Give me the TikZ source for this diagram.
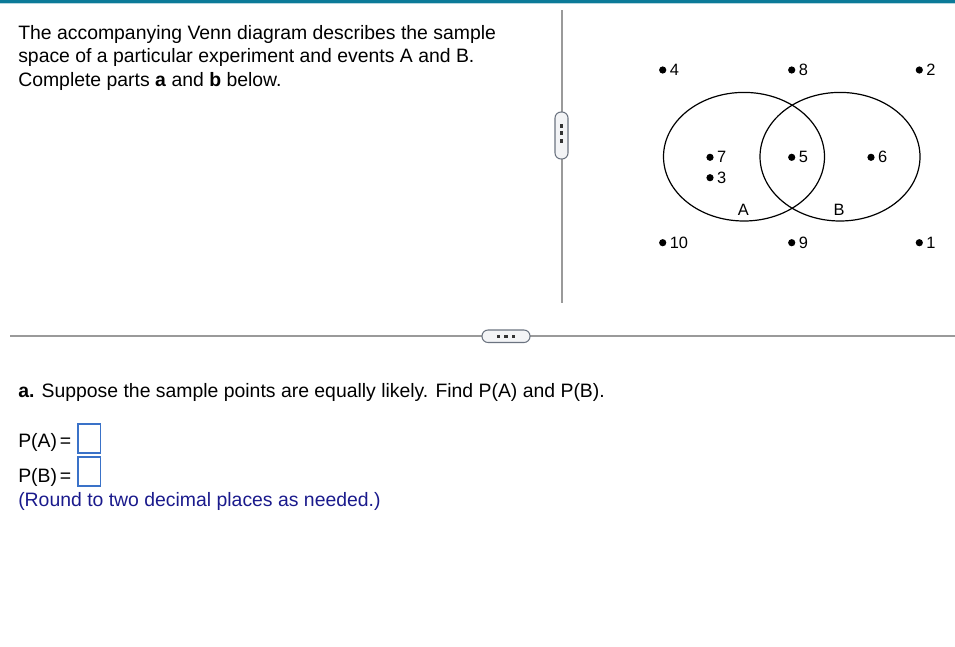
\documentclass[tikz,border=0pt]{standalone}
\usepackage{fontspec}
\setmainfont{Liberation Sans}
\definecolor{teal1}{HTML}{0B7A98}
\definecolor{rulegray}{HTML}{9A9A9A}
\definecolor{handleedge}{HTML}{6B7380}
\definecolor{handlefill}{HTML}{F3F4F6}
\definecolor{boxblue}{HTML}{3A72C8}
\definecolor{navy}{HTML}{1A1A8C}
\begin{document}
\begin{tikzpicture}[x=0.75pt,y=-0.75pt,
  maintext/.style={anchor=base west,inner sep=0pt,font=\fontsize{14.55}{17}\selectfont},
  vlabel/.style={anchor=west,inner sep=0pt,font=\fontsize{12.3}{14}\selectfont},
  samplept/.style={circle,fill=black,inner sep=0pt,minimum size=5.4pt},
  ansbox/.style={draw=boxblue,line width=0.8pt,fill=white,inner sep=0pt,minimum width=17pt,minimum height=21.75pt},
  handle/.style={draw=handleedge,fill=handlefill,line width=0.8pt,rounded corners=4.5pt},
  hdot/.style={fill=black!80,inner sep=0pt,minimum size=2.3pt},
  venn/.style={draw=black,line width=0.9pt}]
\useasboundingbox (0,0) rectangle (955,646);
% top bar
\fill[teal1] (0,0) rectangle (955,3);
\fill[teal1!30] (0,3) rectangle (955,4);
% separators
\coordinate (vtop) at (562,10);
\coordinate (vbot) at (562,303);
\draw[rulegray,line width=0.8pt] (vtop) -- (vbot);
\coordinate (hl) at (10,336);
\coordinate (hr) at (955,336);
\draw[rulegray,line width=0.8pt] (hl) -- (hr);
% vertical handle
\draw[handle] (555,112) rectangle (568,159);
\foreach \yy in {126,133,141} \node[hdot] at (561.5,\yy) {};
% horizontal handle
\draw[handle] (482,330) rectangle (530,342.5);
\foreach \xx in {498.5,506,513.5} \node[hdot] at (\xx,336.2) {};
% intro text
\node[maintext] (t1) at (18,39) {The accompanying Venn diagram describes the sample};
\node[maintext] (t2) at (18,62.5) {space of a particular experiment and events A and B.};
\node[maintext] (t3) at (18,86) {Complete parts \textbf{a} and \textbf{b} below.};
% Venn
\draw[venn] (744,156.7) ellipse [x radius=80.5, y radius=64.3];
\draw[venn] (840,156.7) ellipse [x radius=80, y radius=64.3];
\node[samplept] (p4) at (662.7,70) {};  \node[vlabel] (l4) at ([xshift=2.2pt]p4.east) {4};
\node[samplept] (p8) at (791.7,70) {};  \node[vlabel] (l8) at ([xshift=2.2pt]p8.east) {8};
\node[samplept] (p2) at (919.3,70) {};  \node[vlabel] (l2) at ([xshift=2.2pt]p2.east) {2};
\node[samplept] (p7) at (710,157.3) {}; \node[vlabel] (l7) at ([xshift=2.2pt]p7.east) {7};
\node[samplept] (p3) at (710,177.7) {}; \node[vlabel] (l3) at ([xshift=2.2pt]p3.east) {3};
\node[samplept] (p5) at (791.7,157.3) {}; \node[vlabel] (l5) at ([xshift=2.2pt]p5.east) {5};
\node[samplept] (p6) at (871,157.3) {}; \node[vlabel] (l6) at ([xshift=2.2pt]p6.east) {6};
\node[samplept] (p10) at (662.7,242.7) {}; \node[vlabel] (l10) at ([xshift=2.2pt]p10.east) {10};
\node[samplept] (p9) at (791.7,242.7) {}; \node[vlabel] (l9) at ([xshift=2.2pt]p9.east) {9};
\node[samplept] (p1) at (919.3,242.7) {}; \node[vlabel] (l1) at ([xshift=2.2pt]p1.east) {1};
\node[inner sep=0pt,font=\fontsize{12.3}{14}\selectfont] (lA) at (743.3,210) {A};
\node[inner sep=0pt,font=\fontsize{12.3}{14}\selectfont] (lB) at (839,210) {B};
% part a
\node[maintext] (qa) at (18,397) {\textbf{a.} Suppose the sample points are equally likely. Find P(A) and P(B).};
\node[maintext] (pa) at (18,447) {P(A)\hspace{0.15em}=};
\node[ansbox] (ba) at (89.3,438.5) {};
\node[maintext] (pb) at (18,482) {P(B)\hspace{0.15em}=};
\node[ansbox] (bb) at (89.3,471.5) {};
\node[maintext,text=navy] (rn) at (18,506) {(Round to two decimal places as needed.)};
\end{tikzpicture}
\end{document}
